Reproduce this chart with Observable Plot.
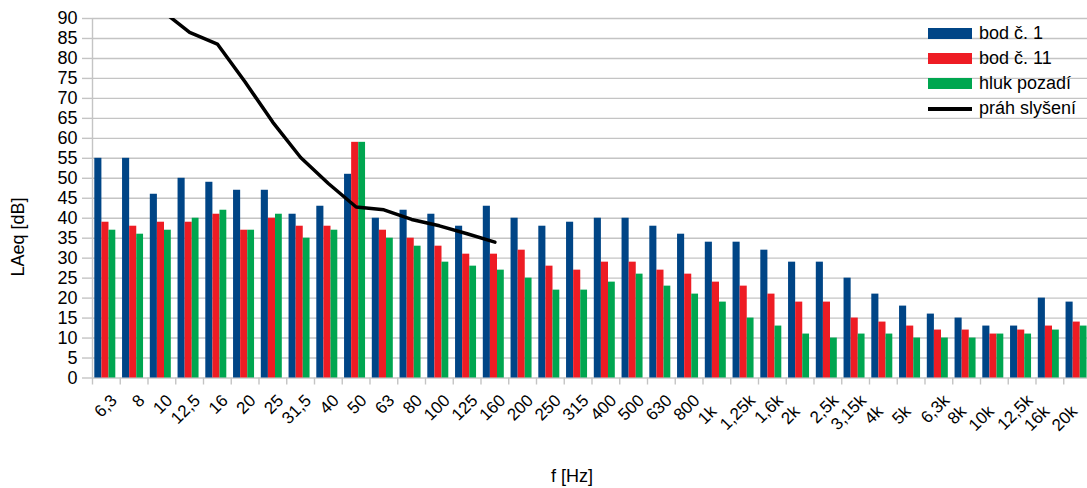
<!DOCTYPE html>
<html>
<head>
<meta charset="utf-8">
<script src="https://cdn.jsdelivr.net/npm/d3@7"></script>
<script src="https://cdn.jsdelivr.net/npm/@observablehq/plot@0.6"></script>
<style>
  html, body { margin: 0; padding: 0; background: #fff; overflow: hidden; }
  #wrap { position: relative; width: 1087px; height: 488px; font-family: "Liberation Sans", Arial, sans-serif; color: #000; }
  #wrap svg { position: absolute; left: 0; top: 0; }
  .ttl { position: absolute; font-size: 18px; line-height: 18px; white-space: nowrap; }
  #legend { position: absolute; left: 928px; top: 21px; font-size: 18px; }
  .row { display: flex; align-items: center; height: 25px; }
  .sw { width: 44px; margin-right: 7px; }
</style>
</head>
<body>
<div id="wrap"></div>
<script>
const categories = ["6,3","8","10","12,5","16","20","25","31,5","40","50","63","80","100","125","160","200","250","315","400","500","630","800","1k","1,25k","1,6k","2k","2,5k","3,15k","4k","5k","6,3k","8k","10k","12,5k","16k","20k"];
const bod1   = [55,55,46,50,49,47,47,41,43,51,40,42,41,38,43,40,38,39,40,40,38,36,34,34,32,29,29,25,21,18,16,15,13,13,20,19];
const bod11  = [39,38,39,39,41,37,40,38,38,59,37,35,33,31,31,32,28,27,29,29,27,26,24,23,21,19,19,15,14,13,12,12,11,12,13,14];
const pozadi = [37,36,37,40,42,37,41,35,37,59,35,33,29,28,27,25,22,22,24,26,23,21,19,15,13,11,10,11,11,10,10,10,11,11,12,13];
const prahCats   = ["10","12,5","16","20","25","31,5","40","50","63","80","100","125","160"];
const prahValues = [92,86.5,83.6,74.1,64.0,55.2,48.7,42.8,42.1,39.7,38.1,36.1,34.0];
const yTicks = d3.range(0, 91, 5);

const seriesNames = ["bod č. 1", "bod č. 11", "hluk pozadí", "práh slyšení"];
const colors = ["#004586", "#ee1c24", "#00a650", "#000000"];

const rows = (vals) => categories.map((c, i) => ({cat: c, v: vals[i]}));
const prah = prahCats.map((c, i) => ({cat: c, v: prahValues[i]}));

const step = (1091 - 92) / categories.length;
const gridColor = "#c4c4c4";
const wholeK = d => /^\d+k$/.test(d);

const labelStyle = {x: d => d, text: d => d, frameAnchor: "bottom", rotate: -45, textAnchor: "end", lineAnchor: "top", fontSize: 17, fill: "#000"};

const chart = Plot.plot({
  width: 1087,
  height: 488,
  marginLeft: 92,
  marginRight: 0,
  marginTop: 18,
  marginBottom: 110.5,
  style: {fontFamily: "Liberation Sans, Arial, sans-serif", fontSize: "18px", color: "#000", background: "transparent"},
  x: {type: "band", domain: categories, range: [92, 1091], padding: 0, round: false, axis: null},
  y: {domain: [0, 90], axis: null},
  marks: [
    Plot.ruleY(yTicks, {stroke: gridColor, strokeWidth: 1.4}),
    Plot.barY(rows(bod1),   {x: "cat", y: "v", fill: colors[0], insetLeft: 2.3,  insetRight: step - 9.4}),
    Plot.barY(rows(bod11),  {x: "cat", y: "v", fill: colors[1], insetLeft: 9.4,  insetRight: step - 16.5}),
    Plot.barY(rows(pozadi), {x: "cat", y: "v", fill: colors[2], insetLeft: 16.5, insetRight: step - 23.3}),
    Plot.ruleX([categories[0]], {x: d => d, y1: 0, y2: 90, dx: -step / 2, stroke: gridColor, strokeWidth: 1.4}),
    Plot.axisX({tickSize: 7, tickFormat: () => "", dx: -step / 2, stroke: gridColor, strokeWidth: 1.4, label: null}),
    Plot.axisY({ticks: yTicks, tickSize: 10, tickPadding: 5, stroke: gridColor, strokeWidth: 1.4, fontSize: 18, label: null}),
    Plot.text(categories.filter(d => !wholeK(d)), {...labelStyle, dx: 3, dy: 15}),
    Plot.text(categories.filter(wholeK), {...labelStyle, dx: -8, dy: 26}),
    Plot.line(prah, {x: "cat", y: "v", stroke: colors[3], strokeWidth: 3.5, clip: true})
  ]
});

const wrap = document.getElementById("wrap");
wrap.appendChild(chart);

const yt = document.createElement("div");
yt.className = "ttl";
yt.textContent = "LAeq [dB]";
yt.style.left = "17.5px";
yt.style.top = "237px";
yt.style.transform = "translate(-50%, -50%) rotate(-90deg)";
wrap.appendChild(yt);

const xt = document.createElement("div");
xt.className = "ttl";
xt.textContent = "f [Hz]";
xt.style.left = "572px";
xt.style.top = "467px";
xt.style.transform = "translateX(-50%)";
wrap.appendChild(xt);

const legend = document.createElement("div");
legend.id = "legend";
seriesNames.forEach((name, i) => {
  const r = document.createElement("div");
  r.className = "row";
  const sw = document.createElement("div");
  sw.className = "sw";
  sw.style.background = colors[i];
  sw.style.height = i === 3 ? "4px" : "11px";
  const t = document.createElement("span");
  t.textContent = name;
  r.appendChild(sw);
  r.appendChild(t);
  legend.appendChild(r);
});
wrap.appendChild(legend);
</script>
</body>
</html>
